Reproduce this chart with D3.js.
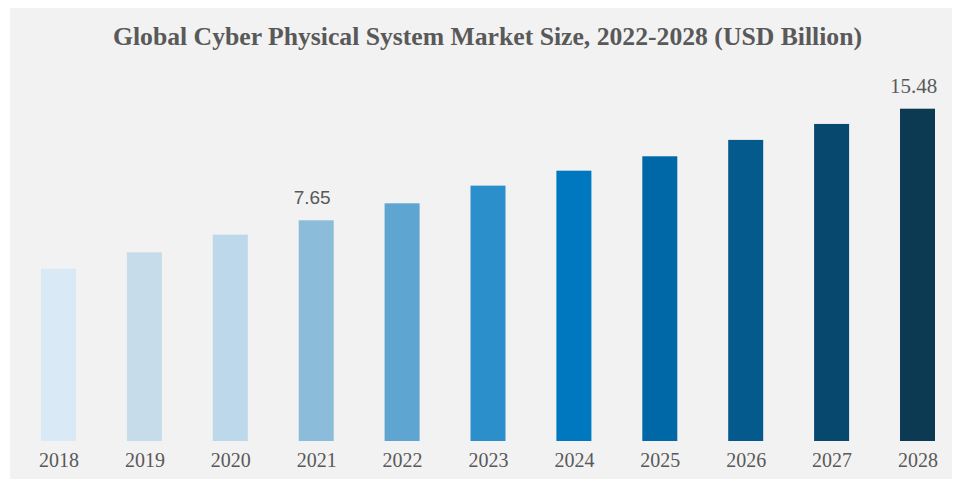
<!DOCTYPE html>
<html>
<head>
<meta charset="utf-8">
<script src="https://cdn.jsdelivr.net/npm/d3@7"></script>
<style>
  html, body { margin: 0; padding: 0; background: #ffffff; }
  svg { display: block; }
</style>
</head>
<body>
<svg id="chart" width="957" height="484"></svg>
<script>
const years = ["2018","2019","2020","2021","2022","2023","2024","2025","2026","2027","2028"];
const values = [4.25, 5.40, 6.64, 7.65, 8.84, 10.08, 11.13, 12.14, 13.29, 14.41, 15.48];
const colors = ["#d9e9f5","#c6dcea","#bcd8ea","#8bbcda","#5ea6d1","#2a8fcb","#0078bf","#0068a6","#045a8c","#07486f","#0c3a52"];
const labelledYears = ["2021","2028"];
const title = "Global Cyber Physical System Market Size, 2022-2028 (USD Billion)";

const svg = d3.select("#chart");

// panel background
svg.append("rect").attr("x", 10).attr("y", 8).attr("width", 942).attr("height", 471).attr("fill", "#f2f2f2");

// title
svg.append("text")
  .attr("x", 487.5).attr("y", 45)
  .attr("text-anchor", "middle")
  .attr("font-family", "'Liberation Serif', 'Times New Roman', serif")
  .attr("font-weight", "bold")
  .attr("font-size", 25)
  .attr("textLength", 749)
  .attr("lengthAdjust", "spacingAndGlyphs")
  .attr("fill", "#595959")
  .text(title);

const x = d3.scalePoint().domain(years).range([58.5, 917.5]);
const barW = 35;
// value axis does not start at zero in the reference
const y = d3.scaleLinear().domain([-7.84, 15.48]).range([441, 108.7]);

svg.append("g").selectAll("rect")
  .data(years)
  .join("rect")
  .attr("x", d => x(d) - barW / 2)
  .attr("width", barW)
  .attr("y", (d, i) => y(values[i]))
  .attr("height", (d, i) => y(y.domain()[0]) - y(values[i]))
  .attr("fill", (d, i) => colors[i]);

// x axis labels
const xAxis = d3.axisBottom(x).tickSize(0).tickPadding(12);
const gx = svg.append("g").attr("transform", "translate(0,441)").call(xAxis);
gx.select(".domain").remove();
gx.selectAll("text")
  .attr("font-family", "'Liberation Serif', 'Times New Roman', serif")
  .attr("font-size", 20)
  .attr("fill", "#595959");

// value labels
years.forEach((yr, i) => {
  if (!labelledYears.includes(yr)) return;
  const serif = yr === "2028";
  svg.append("text")
    .attr("x", x(yr) - 4)
    .attr("y", y(values[i]) - 16)
    .attr("text-anchor", "middle")
    .attr("font-family", serif ? "'Liberation Serif', serif" : "'Liberation Sans', Arial, sans-serif")
    .attr("font-size", serif ? 21 : 19)
    .attr("fill", "#595959")
    .text(values[i].toFixed(2));
});
</script>
</body>
</html>
